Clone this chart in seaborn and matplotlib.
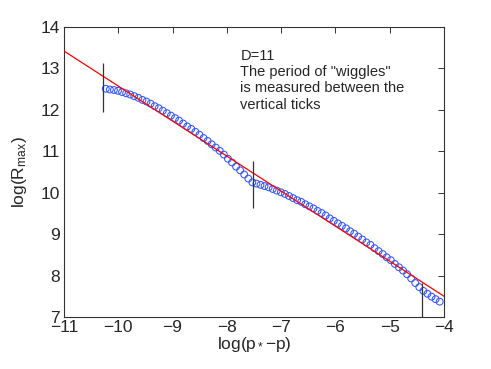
import matplotlib
matplotlib.use("Agg")
import matplotlib.pyplot as plt
import seaborn as sns

# circles
log_dp = [-10.230, -10.155, -10.080, -10.005, -9.930, -9.855, -9.780, -9.705, -9.630, -9.555,
          -9.480, -9.405, -9.330, -9.255, -9.180, -9.105, -9.030, -8.955, -8.880, -8.805,
          -8.730, -8.655, -8.580, -8.505, -8.430, -8.355, -8.280, -8.205, -8.130, -8.055,
          -7.980, -7.905, -7.830, -7.755, -7.680, -7.605, -7.530, -7.455, -7.380, -7.305,
          -7.230, -7.155, -7.080, -7.005, -6.930, -6.855, -6.780, -6.705, -6.630, -6.555,
          -6.480, -6.405, -6.330, -6.255, -6.180, -6.105, -6.030, -5.955, -5.880, -5.805,
          -5.730, -5.655, -5.580, -5.505, -5.430, -5.355, -5.280, -5.205, -5.130, -5.055,
          -4.980, -4.905, -4.830, -4.755, -4.680, -4.605, -4.530, -4.455, -4.380, -4.305,
          -4.230, -4.155, -4.080]
log_rmax = [12.51, 12.49, 12.48, 12.46, 12.43, 12.40, 12.37, 12.33, 12.29, 12.24,
            12.20, 12.15, 12.09, 12.04, 11.98, 11.92, 11.86, 11.80, 11.74, 11.67,
            11.60, 11.54, 11.47, 11.40, 11.32, 11.25, 11.17, 11.09, 11.01, 10.92,
            10.82, 10.73, 10.63, 10.54, 10.44, 10.34, 10.25, 10.22, 10.19, 10.16,
            10.13, 10.09, 10.05, 10.01, 9.97, 9.92, 9.87, 9.82, 9.78, 9.72,
            9.67, 9.62, 9.56, 9.51, 9.45, 9.38, 9.32, 9.26, 9.20, 9.14,
            9.07, 9.01, 8.94, 8.87, 8.80, 8.74, 8.66, 8.59, 8.52, 8.44,
            8.37, 8.28, 8.20, 8.12, 8.03, 7.93, 7.82, 7.72, 7.63, 7.56,
            7.49, 7.43, 7.37]

# straight fit
fit_x = [-11.0, -4.0]
fit_y = [13.42, 7.50]

# vertical ticks marking the wiggle period
tick_x = [-10.29, -7.525, -4.40]
tick_lo = [11.94, 9.63, 6.60]
tick_hi = [13.13, 10.77, 7.83]

sns.set_style("white")
plt.rcParams['font.family'] = ['Liberation Sans', 'DejaVu Sans']
plt.rcParams['mathtext.fontset'] = 'custom'
plt.rcParams['mathtext.rm'] = 'Liberation Sans'
plt.rcParams['mathtext.it'] = 'Liberation Sans:italic'

fig, ax = plt.subplots(figsize=(4.91, 3.69), dpi=100)
fig.subplots_adjust(left=0.1303, right=0.9043, bottom=0.141, top=0.9268)

sns.scatterplot(x=log_dp, y=log_rmax, ax=ax, marker='o', s=24,
                facecolor='none', edgecolor='#3355ff', linewidth=0.75, zorder=3)
sns.lineplot(x=fit_x, y=fit_y, ax=ax, color='red', linewidth=0.9, zorder=4)
ax.vlines(tick_x, tick_lo, tick_hi, color='#333333', linewidth=0.9, zorder=5)

ax.text(-7.75, 13.47, 'D=11\nThe period of "wiggles"\nis measured between the\nvertical ticks',
        ha='left', va='top', fontsize=10.5, linespacing=1.2)

ax.set_xlim(-11, -4)
ax.set_ylim(7, 14)
ax.set_xticks(range(-11, -3))
ax.set_yticks(range(7, 15))
ax.tick_params(direction='in', length=4, width=0.7, labelsize=12.5,
               top=True, right=True, pad=3, color='#333333')
ax.tick_params(axis='x', pad=2)
for sp in ax.spines.values():
    sp.set_visible(True)
    sp.set_color('#333333')
    sp.set_linewidth(0.8)

ax.set_xlabel('log(p$_*$\u2212p)', fontsize=12.5, labelpad=0)
ax.set_ylabel('log(R$_{\\mathrm{max}}$)', fontsize=12.5, labelpad=8)

plt.savefig('out.png', dpi=100)
plt.close()
